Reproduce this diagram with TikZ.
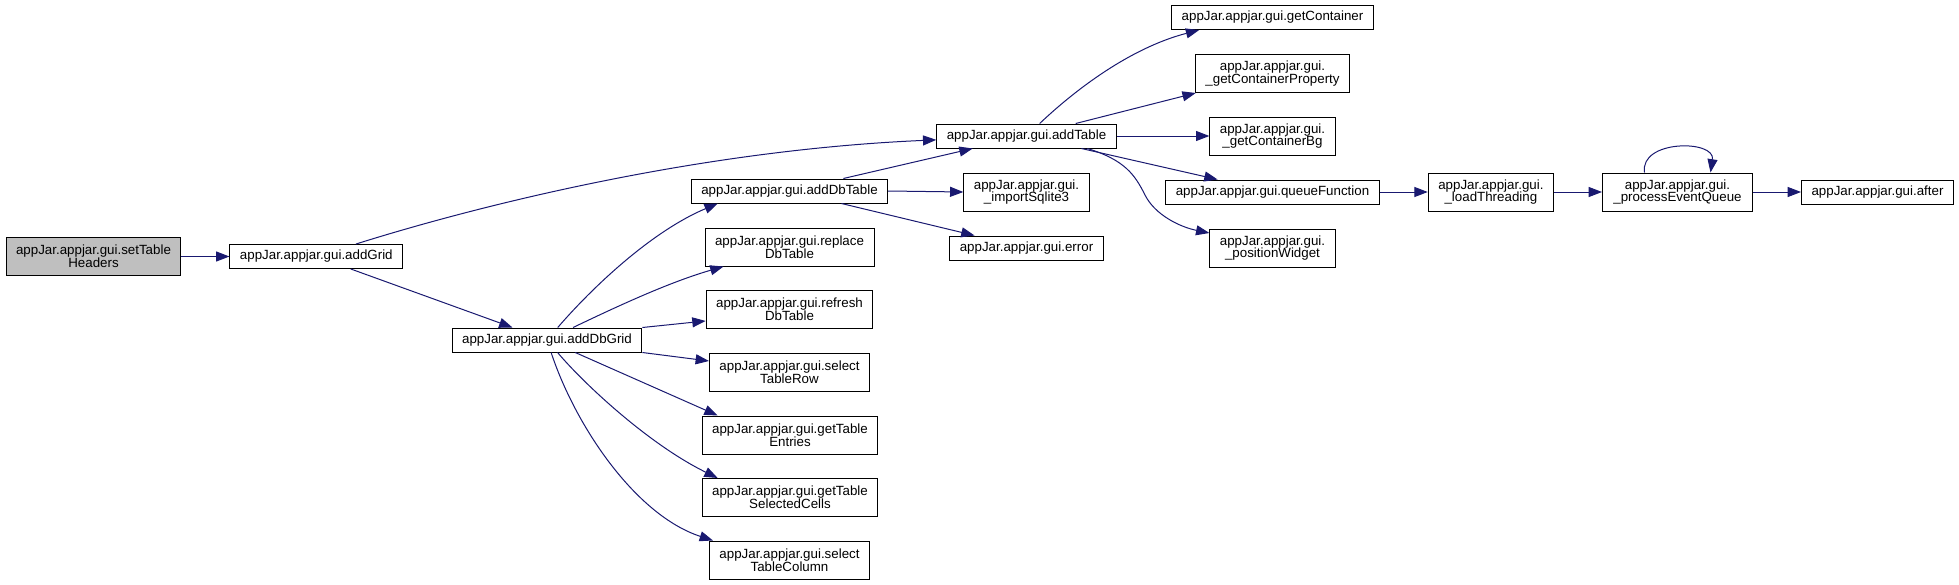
\documentclass[tikz,border=0pt]{standalone}
\usepackage{fontspec}
\setmainfont{Liberation Sans}
\usepackage{xcolor}
\usetikzlibrary{positioning,arrows.meta}
\definecolor{edgeblue}{HTML}{191970}
\tikzset{
fn/.style={
draw,
line width=0.75pt,
fill=white,
inner xsep=7.5pt,
inner ysep=3pt,
minimum height=18pt,
align=center,
font=\fontsize{10pt}{9.6pt}\selectfont
},
fntwo/.style={
fn,
minimum height=28.5pt
},
root/.style={
fntwo,
fill=gray!50
},
call/.style={
-{Triangle[length=10pt,width=7.5pt]},
draw=edgeblue,
line width=0.75pt
}
}

\begin{document}
\begin{tikzpicture}[x=0.75pt,y=-0.75pt,node distance=36pt]

\useasboundingbox (0,0) rectangle (1959,585);

\node[root](setHeaders) at (93.5,256.5){appJar.appjar.gui.setTable\\Headers};

\node[fn,right=of setHeaders](addGrid){appJar.appjar.gui.addGrid};

\node[fn](addDbGrid) at (547,340){appJar.appjar.gui.addDbGrid};

\node[fn](addDbTable) at (789.5,191){appJar.appjar.gui.addDbTable};

\node[fntwo](replaceDb) at (789.5,247){appJar.appjar.gui.replace\\DbTable};

\node[fntwo](refreshDb) at (789.5,309.5){appJar.appjar.gui.refresh\\DbTable};

\node[fntwo](selRow) at (789.5,372){appJar.appjar.gui.select\\TableRow};

\node[fntwo](getEntries) at (790,435){appJar.appjar.gui.getTable\\Entries};

\node[fntwo](getCells) at (790,497.5){appJar.appjar.gui.getTable\\SelectedCells};

\node[fntwo](selColumn) at (789.5,560){appJar.appjar.gui.select\\TableColumn};

\node[fn](addTable) at (1026.5,136){appJar.appjar.gui.addTable};

\node[fntwo](sqlite) at (1026.5,192){appJar.appjar.gui.\\\_importSqlite3};

\node[fn](error) at (1026.5,248){appJar.appjar.gui.error};

\node[fn](getCont) at (1272.5,17.5){appJar.appjar.gui.getContainer};

\node[fntwo](contProp) at (1272.5,73.5){appJar.appjar.gui.\\\_getContainerProperty};

\node[fntwo](contBg) at (1272.5,136){appJar.appjar.gui.\\\_getContainerBg};

\node[fn](queueFn) at (1272.5,192){appJar.appjar.gui.queueFunction};

\node[fntwo](posWidget) at (1272.5,248){appJar.appjar.gui.\\\_positionWidget};

\node[fntwo,right=of queueFn](loadThr){appJar.appjar.gui.\\\_loadThreading};

\node[fntwo,minimum width=112.5pt,right=of loadThr](procQueue){appJar.appjar.gui.\\\_processEventQueue};

\node[fn,right=of procQueue](after){appJar.appjar.gui.after};

% calls from the first two levels
\draw[call](setHeaders)--(addGrid);

\draw[call](addGrid) .. controls (480,205) and (700,150) .. (addTable);

\draw[call](addGrid)--(addDbGrid);

\draw[call](addDbGrid) .. controls (590,290) and (650,232) .. ([xshift=20.25pt]addDbTable.south west);

\draw[call](addDbGrid) .. controls (620,305) and (670,282) .. ([xshift=14.25pt]replaceDb.south west);

\draw[call](addDbGrid.north east)--([yshift=-8.6pt]refreshDb.west);

\draw[call](addDbGrid.south east)--([yshift=8.25pt]selRow.west);

\draw[call](addDbGrid)--([xshift=12pt]getEntries.north west);

\draw[call](addDbGrid) .. controls (585,385) and (650,445) .. ([xshift=12pt]getCells.north west);

\draw[call](addDbGrid) .. controls (575,425) and (635,515) .. ([xshift=3pt]selColumn.north west);

% addDbTable and addTable
\draw[call](addDbTable)--(addTable);

\draw[call](addDbTable.east)--(sqlite.west);

\draw[call](addDbTable)--(error);

\draw[call](addTable) .. controls (1075,90) and (1130,48) .. ([xshift=21pt]getCont.south west);

\draw[call](addTable)--(contProp);

\draw[call](addTable)--(contBg);

\draw[call](addTable)--(queueFn);

\draw[call]([xshift=-22pt]addTable.south east) .. controls (1125,160) and (1135,175) .. (1145,195)
.. controls (1155,215) and (1180,227) .. ([yshift=11.25pt]posWidget.west);

% event queue chain
\draw[call](queueFn)--(loadThr);

\draw[call](loadThr)--(procQueue);

\draw[call](procQueue)--(after);

\draw[call]([xshift=-24.75pt]procQueue.north) .. controls +(-5,-33) and +(5,-33) .. ([xshift=24.75pt]procQueue.north);

\end{tikzpicture}
\end{document}
